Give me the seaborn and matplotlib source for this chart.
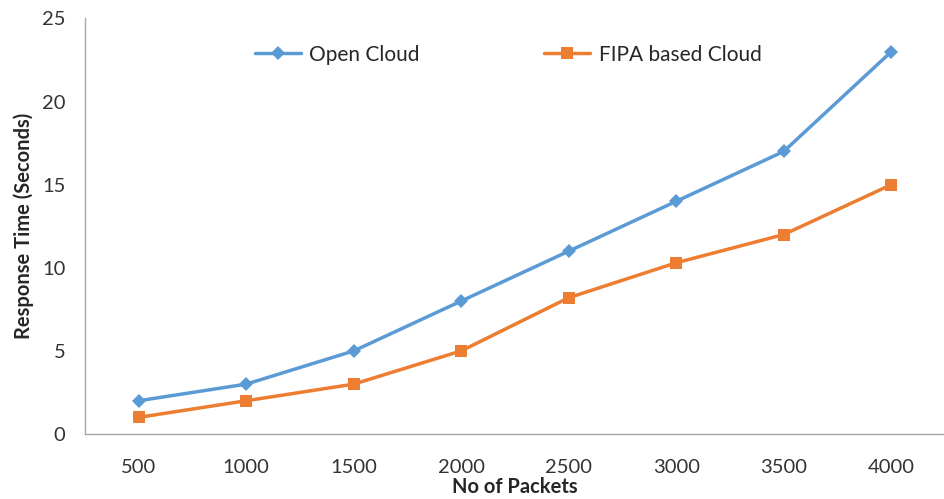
import pandas as pd
import seaborn as sns
import matplotlib.pyplot as plt

packets = ['500', '1000', '1500', '2000', '2500', '3000', '3500', '4000']
open_cloud = [2, 3, 5, 8, 11, 14, 17, 23]
fipa_cloud = [1, 2, 3, 5, 8.2, 10.3, 12, 15]

df = pd.DataFrame({'pos': range(len(packets)), 'Open Cloud': open_cloud,
                   'FIPA based Cloud': fipa_cloud})

sns.set_style('white')
plt.rcParams['font.family'] = ['Lato', 'DejaVu Sans']

fig = plt.figure(figsize=(9.45, 4.99), dpi=100)
ax = fig.add_axes([0.09, 0.1303, 0.91, 0.8327])

sns.lineplot(data=df, x='pos', y='Open Cloud', ax=ax, color='#5B9BD5', lw=2.5,
             marker='D', markersize=7, markeredgewidth=0, label='Open Cloud')
sns.lineplot(data=df, x='pos', y='FIPA based Cloud', ax=ax, color='#ED7D31', lw=2.5,
             marker='s', markersize=8.5, markeredgewidth=0, label='FIPA based Cloud')

ax.set_xlim(-0.5, len(packets) - 0.5)
ax.set_ylim(0, 25)
ax.set_yticks([0, 5, 10, 15, 20, 25])
ax.set_xticks(range(len(packets)))
ax.set_xticklabels(packets)
ax.set_xticks([i - 0.5 for i in range(len(packets) + 1)], minor=True)
ax.tick_params(axis='x', which='major', length=0, labelsize=14.5, pad=18)
ax.tick_params(axis='x', which='minor', length=6, color='#A6A6A6', width=1)
ax.tick_params(axis='y', length=6, color='#A6A6A6', width=1, labelsize=14.5,
               pad=8, direction='out')
ax.tick_params(axis='both', labelcolor='#333333')

for s in ['top', 'right']:
    ax.spines[s].set_visible(False)
for s in ['left', 'bottom']:
    ax.spines[s].set_color('#A6A6A6')
    ax.spines[s].set_linewidth(1)

ax.set_xlabel('No of Packets', fontsize=14.5, fontweight='bold', labelpad=1)
ax.set_ylabel('Response Time (Seconds)', fontsize=14.5, fontweight='bold', labelpad=6)

ax.legend(loc='upper center', bbox_to_anchor=(0.492, 0.982), ncol=2, frameon=False,
          fontsize=15, columnspacing=6.0, handlelength=2.2, handletextpad=0.4)

fig.savefig('out.png', dpi=100)
